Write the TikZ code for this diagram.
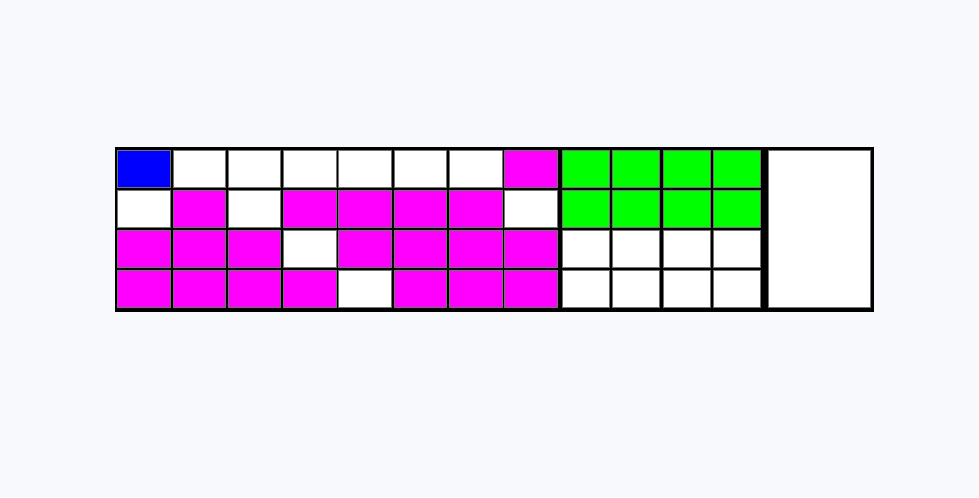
\documentclass[tikz,border=0pt]{standalone}
\definecolor{bgpage}{RGB}{248,249,252}
\definecolor{cellB}{RGB}{0,0,255}
\definecolor{cellM}{RGB}{255,0,255}
\definecolor{cellG}{RGB}{0,255,0}
\definecolor{cellW}{RGB}{255,255,255}
\tikzset{
  cell/.style={draw=black!55,line width=0.5pt},
}
\begin{document}
\begin{tikzpicture}[x=0.02cm,y=-0.02cm]

    % 背景与外框
    \fill[bgpage] (0,0) rectangle (979,497);
    \fill[black] (114.5,147.3) rectangle (874.3,311.7);

    % 左侧 4x8 网格
    \foreach \cols [count=\r from 0] in {
        {cellB,cellW,cellW,cellW,cellW,cellW,cellW,cellM},
        {cellW,cellM,cellW,cellM,cellM,cellM,cellM,cellW},
        {cellM,cellM,cellM,cellW,cellM,cellM,cellM,cellM},
        {cellM,cellM,cellM,cellM,cellW,cellM,cellM,cellM}}
    {
        \foreach \clr [count=\k from 0] in \cols
            \filldraw[cell,fill=\clr] ({117.7+55.3*\k},{150+40.3*\r}) rectangle ++(52.5,37);
    }

    % 中间 4x4 网格
    \foreach \clr [count=\r from 0] in {cellG,cellG,cellW,cellW}
    {
        \foreach \k in {0,...,3}
            \filldraw[cell,fill=\clr] ({562.7+50.2*\k},{150+40.3*\r}) rectangle ++(47,37);
    }

    % 右侧大格
    \filldraw[cell,fill=cellW] (768.7,150) rectangle (870,307.7);

\end{tikzpicture}
\end{document}
